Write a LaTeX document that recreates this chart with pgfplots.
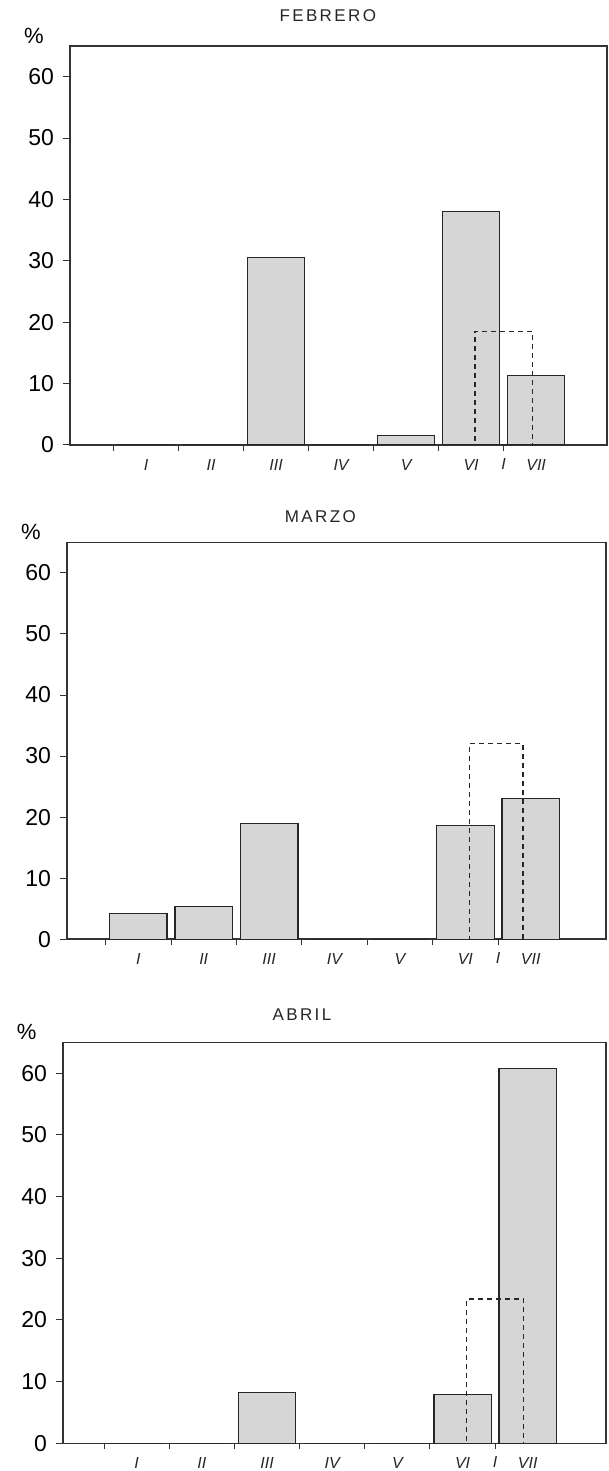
\documentclass[border=0pt]{standalone}
\usepackage{fontspec}
\setmainfont{Liberation Sans}
\newfontfamily\serifI{Liberation Serif}
\usepackage{pgfplots}
\usepackage{pgfplotstable}
\pgfplotsset{compat=1.18}

\pgfplotstableread{
x y
1 0
2 0
3 30.5
4 0
5 1.5
6 38
7 11.3
}\febrero
\pgfplotstableread{
x y
1 4.2
2 5.4
3 19
4 0
5 0
6 18.6
7 23
}\marzo
\pgfplotstableread{
x y
1 0
2 0
3 8.2
4 0
5 0
6 7.9
7 60.8
}\abril

\pgfplotsset{
  panel/.style={
    scale only axis,
    anchor=south west,
    ymin=0, ymax=65,
    ytick={0,10,...,60},
    xtick={1,...,7},
    xticklabels={I,II,III,IV,V,VI,VII},
    minor xtick={0.5,1.5,...,6.5},
    extra x ticks={6.5},
    extra x tick labels={I},
    extra x tick style={tick label style={font=\serifI\fontsize{10.5}{11}\selectfont, yshift=0.5pt}},
    tick align=outside,
    tick pos=left,
    major tick length=3.5pt,
    minor tick length=3pt,
    major x tick style={draw=none},
    minor x tick style={black!80, line width=0.5pt},
    y tick style={black!80, line width=0.5pt},
    axis line style={black!80, line width=0.7pt},
    /pgf/number format/assume math mode=true,
    yticklabel style={font=\fontsize{11.5}{12}\selectfont, xshift=-1pt},
    xticklabel style={font=\fontsize{8}{9}\selectfont\itshape, text=black!85},
    ylabel={\%},
    ylabel style={rotate=-90, at={(axis description cs:-0.067,1)}, anchor=south, font=\fontsize{11}{12}\selectfont, inner sep=1pt},
    title style={anchor=base, font=\fontsize{8.5}{10}\selectfont\addfontfeatures{LetterSpace=14}, text=black!85},
  },
  barstyle/.style={ybar, bar shift=0pt, bar width=0.88, draw=black!85, line width=0.6pt, fill=black!16},
  dashbar/.style={ybar, bar shift=0pt, bar width=0.88, draw=black!85, line width=0.6pt, dash pattern=on 2.5pt off 2pt, fill=none},
}

\begin{document}
\begin{tikzpicture}
\path[use as bounding box] (0,0) rectangle (304.5pt,735.5pt);

\begin{axis}[panel, at={(35pt,513pt)}, width=268.5pt, height=199.5pt,
  xmin=-0.17, xmax=8.09,
  title={FEBRERO}, title style={at={(axis description cs:0.48,1)}, yshift=6.3pt}]
  \addplot[barstyle] table[x=x, y=y] {\febrero};
  \addplot[dashbar] coordinates {(6.5,18.5)};
\end{axis}

\begin{axis}[panel, at={(33.5pt,265.9pt)}, width=269.5pt, height=198.4pt,
  xmin=-0.09, xmax=8.15,
  title={MARZO}, title style={at={(axis description cs:0.47,1)}, yshift=4pt}]
  \addplot[barstyle] table[x=x, y=y] {\marzo};
  \addplot[dashbar, bar width=0.82] coordinates {(6.47,32)};
\end{axis}

\begin{axis}[panel, at={(31.5pt,13.85pt)}, width=271.5pt, height=200.5pt,
  xmin=-0.13, xmax=8.20,
  title={ABRIL}, title style={at={(axis description cs:0.44,1)}, yshift=5pt}]
  \addplot[barstyle] table[x=x, y=y] {\abril};
  \addplot[dashbar] coordinates {(6.5,23.4)};
\end{axis}
\end{tikzpicture}
\end{document}
